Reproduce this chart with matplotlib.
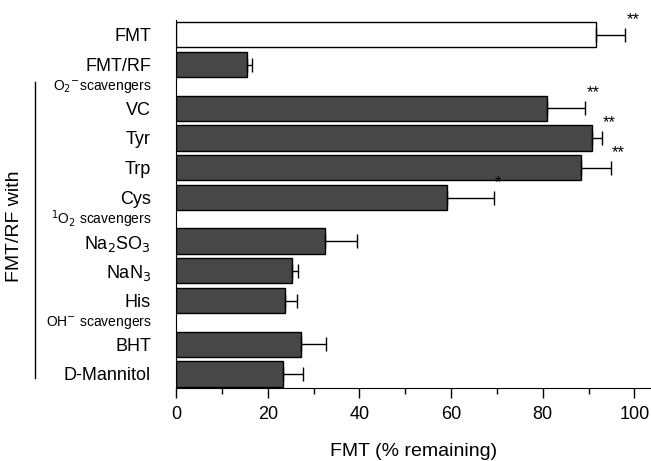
import matplotlib
matplotlib.use("Agg")
import matplotlib.pyplot as plt
import matplotlib.transforms as mtransforms
from matplotlib.ticker import MultipleLocator

plt.rcParams['font.family'] = ['Liberation Sans', 'DejaVu Sans']
plt.rcParams['hatch.linewidth'] = 0.6
plt.rcParams['hatch.color'] = '#9a9a9a'

# ---- data ----
categories = ["FMT", "FMT/RF", "VC", "Tyr", "Trp", "Cys",
              "Na$_2$SO$_3$", "NaN$_3$", "His", "BHT", "D-Mannitol"]
values = [91.6, 15.5, 81.0, 90.8, 88.3, 59.1, 32.4, 25.4, 23.8, 27.3, 23.3]
errors = [6.4, 1.0, 8.3, 2.1, 6.5, 10.3, 7.0, 1.3, 2.5, 5.5, 4.5]
signif = ["**", "", "**", "**", "**", "*", "", "", "", "", ""]
groups = [0, 0, 1, 1, 1, 1, 2, 2, 2, 3, 3]
group_headers = {1: "O$_2$$^{-}$scavengers",
                 2: "$^{1}$O$_2$ scavengers",
                 3: "OH$^{-}$ scavengers"}
xticks = [0, 20, 40, 60, 80, 100]
xlabel = "FMT (% remaining)"
side_label = "FMT/RF with"

# ---- layout ----
gap = 1.45
pos = []
y = 0.0
for i, g in enumerate(groups):
    if i > 0:
        y += gap if g != groups[i - 1] else 1.0
    pos.append(y)

fig = plt.figure(figsize=(6.51, 4.61), dpi=100)
ax = fig.add_axes([176 / 651, 1 - 388 / 461, 475 / 651, (388 - 20) / 461])

faces = ["white"] + ["#474747"] * (len(values) - 1)
hatches = [""] + ["...."] * (len(values) - 1)
for p, v, fc, h in zip(pos, values, faces, hatches):
    ax.barh(p, v, height=0.84, color=fc, edgecolor="none", hatch=h, zorder=2)
ax.barh(pos, values, height=0.84, color="none", edgecolor="black", linewidth=1.0, zorder=2.5)
ax.errorbar(values, pos, xerr=[[0] * len(values), errors], fmt="none",
            ecolor="black", elinewidth=1.0, capsize=5, capthick=1.0, zorder=3)

for v, e, p, s in zip(values, errors, pos, signif):
    if s:
        ax.text(v + e + 0.2, p - 0.52, s, ha="left", va="center", fontsize=12)

ax.set_xlim(0, 103.6)
ax.set_ylim(11.82, -0.5)
ax.set_yticks(pos)
ax.set_yticklabels(categories, fontsize=13)
ax.tick_params(axis="y", length=0, pad=18)
ax.set_xticks(xticks)
ax.xaxis.set_minor_locator(MultipleLocator(10))
ax.tick_params(axis="x", which="major", length=7, width=1, labelsize=13, pad=6, direction="out")
ax.tick_params(axis="x", which="minor", length=4, width=1, direction="out")
ax.spines["top"].set_visible(False)
ax.spines["right"].set_visible(False)
ax.set_xlabel(xlabel, fontsize=14, labelpad=14)

trans = mtransforms.blended_transform_factory(ax.transAxes, ax.transData)
for g, txt in group_headers.items():
    idx = [i for i, gg in enumerate(groups) if gg == g]
    first = pos[idx[0]]
    prev = pos[idx[0] - 1]
    ax.text(-0.052, (first + prev) / 2, txt, transform=trans, ha="right",
            va="center", fontsize=10)

ax.plot([-0.297, -0.297], [1.57, 11.48], color="black", lw=1.0,
        transform=trans, clip_on=False)
ax.text(-0.339, 6.39, side_label, transform=trans, rotation=90,
        ha="center", va="center", fontsize=14)

fig.savefig("out.png", dpi=100)
